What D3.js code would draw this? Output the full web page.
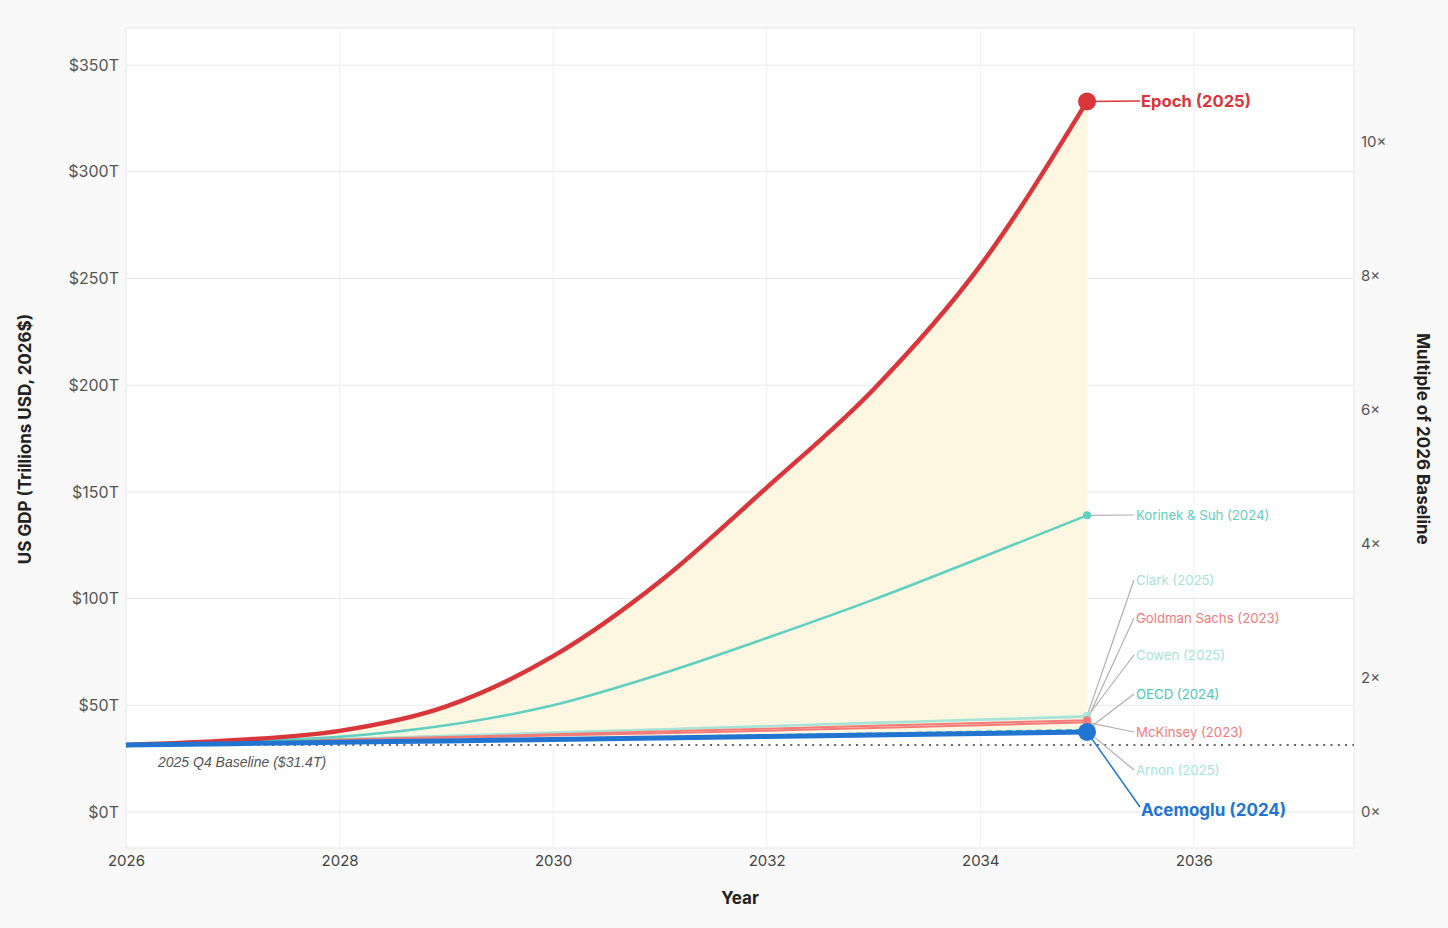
<!DOCTYPE html>
<html>
<head>
<meta charset="utf-8">
<script src="https://cdn.jsdelivr.net/npm/d3@7"></script>
<style>
  body { margin: 0; background: #f9f9f9; }
  svg { display: block; }
</style>
</head>
<body>
<script>
// data (trillions USD, 2026$)
var years = [2026, 2027, 2028, 2029, 2030, 2031, 2032, 2033, 2034, 2035]
var epoch = [31.4, 33.6, 38, 49.5, 73, 108, 152, 198, 256, 333]
var korinek = [31.4, 33, 35.2, 40.6, 50, 64.5, 81.5, 99.5, 119, 139]
var clark = [31.4, 32.8, 34.3, 35.8, 37.3, 38.8, 40.3, 41.9, 43.4, 45]
var goldman = [31.4, 32.6, 33.9, 35.1, 36.4, 37.7, 39, 40.4, 41.7, 43]
var cowen = [31.4, 32.7, 34.1, 35.6, 37.1, 38.6, 40.1, 41.6, 43.1, 44.5]
var oecd = [31.4, 32.1, 32.9, 33.6, 34.4, 35.2, 36, 36.8, 37.7, 38.5]
var mckinsey = [31.4, 32.5, 33.6, 34.7, 35.8, 36.9, 38.1, 39.3, 40.6, 42]
var arnon = [31.4, 32.1, 32.8, 33.5, 34.2, 34.9, 35.7, 36.4, 37.2, 38]
var acemoglu = [31.4, 32, 32.7, 33.3, 34, 34.7, 35.4, 36.1, 36.8, 37.5]
var baseline = 31.4
var yTicks = [0, 50, 100, 150, 200, 250, 300, 350]
var xTicks = [2026, 2028, 2030, 2032, 2034, 2036]
var multTicks = [0, 2, 4, 6, 8, 10]

var series = [
  {name: 'Epoch (2025)', values: epoch, color: '#d8363a', width: 4.5, r: 9, labelY: 101, bold: true, fs: 16.6},
  {name: 'Korinek & Suh (2024)', values: korinek, color: '#5fcfbf', width: 2.5, r: 4, labelY: 515},
  {name: 'Clark (2025)', values: clark, color: '#a6e4d8', width: 2, r: 4, labelY: 580},
  {name: 'Goldman Sachs (2023)', values: goldman, color: '#f47a78', width: 2, r: 4, labelY: 618},
  {name: 'Cowen (2025)', values: cowen, color: '#a6e4d8', width: 2, r: 4, labelY: 655},
  {name: 'OECD (2024)', values: oecd, color: '#4cc6b8', width: 2, r: 4, labelY: 694, dash: '6,4'},
  {name: 'McKinsey (2023)', values: mckinsey, color: '#f47a78', width: 2, r: 4, labelY: 732},
  {name: 'Arnon (2025)', values: arnon, color: '#a6e4d8', width: 2, r: 4, labelY: 770},
  {name: 'Acemoglu (2024)', values: acemoglu, color: '#2174d0', width: 5, r: 9, labelY: 810, bold: true, fs: 17}
]

var W = 1448, H = 928
var margin = {top: 28, right: 94, bottom: 80, left: 126}
var width = W - margin.left - margin.right
var height = H - margin.top - margin.bottom

var x = d3.scaleLinear().domain([2026, 2037.5]).range([0, width])
var y = d3.scaleLinear().domain([-16.9, 367.4]).range([height, 0])
var y2 = d3.scaleLinear().domain([-16.9 / baseline, 367.4 / baseline]).range([height, 0])

var svg = d3.select('body').append('svg')
  .attr('width', W)
  .attr('height', H)

var g = svg.append('g')
  .attr('transform', `translate(${margin.left}, ${margin.top})`)

g.append('rect')
  .attr('width', width).attr('height', height)
  .attr('fill', '#fff')
  .attr('stroke', '#e6e6e6')

// grid
g.selectAll('.vgrid').data(xTicks).enter().append('line')
  .attr('x1', d => x(d)).attr('x2', d => x(d))
  .attr('y1', 0).attr('y2', height)
  .attr('stroke', '#f1f1f1')
g.selectAll('.hgrid').data(yTicks).enter().append('line')
  .attr('x1', 0).attr('x2', width)
  .attr('y1', d => y(d)).attr('y2', d => y(d))
  .attr('stroke', '#e8e8e8')

// envelope
var lo = years.map((yr, i) => d3.min(series, s => s.values[i]))
var hi = years.map((yr, i) => d3.max(series, s => s.values[i]))
var area = d3.area()
  .x((d, i) => x(years[i]))
  .y0((d, i) => y(lo[i]))
  .y1((d, i) => y(hi[i]))
  .curve(d3.curveMonotoneX)
g.append('path').datum(years)
  .attr('d', area)
  .attr('fill', '#fdf6e0')

// baseline
g.append('line')
  .attr('x1', 0).attr('x2', width)
  .attr('y1', y(baseline)).attr('y2', y(baseline))
  .attr('stroke', '#666')
  .attr('stroke-width', 2)
  .attr('stroke-dasharray', '2,5.3')
g.append('text')
  .attr('x', 32).attr('y', y(baseline) + 22)
  .attr('font-family', 'Liberation Sans, Arial, sans-serif')
  .attr('font-style', 'italic')
  .attr('font-size', 14)
  .attr('fill', '#555')
  .text('2025 Q4 Baseline ($31.4T)')

// lines, emphasised ones last
var line = d3.line()
  .x((d, i) => x(years[i]))
  .y(d => y(d))
  .curve(d3.curveMonotoneX)

var order = [2, 4, 7, 3, 6, 5, 1, 0, 8]
order.forEach(function (k) {
  var s = series[k]
  g.append('path').datum(s.values)
    .attr('d', line)
    .attr('fill', 'none')
    .attr('stroke', s.color)
    .attr('stroke-width', s.width)
    .attr('stroke-dasharray', s.dash || null)
})

// connectors and labels
var lx = x(2035)
series.forEach(function (s) {
  var ey = y(s.values[s.values.length - 1])
  var tx = s.bold ? 1140 - margin.left : 1134 - margin.left
  g.append('line')
    .attr('x1', lx).attr('y1', ey)
    .attr('x2', tx).attr('y2', s.labelY - margin.top - (s.bold && s.labelY > 700 ? 3 : 0))
    .attr('stroke', s.bold ? s.color : '#b0b0b0')
    .attr('stroke-width', s.bold ? 1.5 : 1.2)
})
order.forEach(function (k) {
  var s = series[k]
  g.append('circle')
    .attr('cx', lx).attr('cy', y(s.values[s.values.length - 1]))
    .attr('r', s.r)
    .attr('fill', s.color)
})
series.forEach(function (s) {
  g.append('text')
    .attr('x', (s.bold ? 1141 : 1136) - margin.left)
    .attr('y', s.labelY - margin.top)
    .attr('dy', '0.35em')
    .attr('font-family', 'Inter, sans-serif')
    .attr('font-size', s.fs || 13.2)
    .attr('font-weight', s.bold ? 700 : 400)
    .attr('fill', s.color)
    .text(s.name)
})

// axes
var xAxis = g.append('g')
  .attr('transform', `translate(0, ${height})`)
  .call(d3.axisBottom(x).tickValues(xTicks).tickFormat(d3.format('d')).tickSize(0).tickPadding(7))
xAxis.select('.domain').remove()
xAxis.selectAll('text')
  .attr('font-family', 'Inter, sans-serif')
  .attr('font-size', 15)
  .attr('fill', '#444')

var yAxis = g.append('g')
  .call(d3.axisLeft(y).tickValues(yTicks).tickFormat(d => `$${d}T`).tickSize(0).tickPadding(7))
yAxis.select('.domain').remove()
yAxis.selectAll('text')
  .attr('font-family', 'Inter, sans-serif')
  .attr('font-size', 16)
  .attr('fill', '#555')

var rAxis = g.append('g')
  .attr('transform', `translate(${width}, 0)`)
  .call(d3.axisRight(y2).tickValues(multTicks).tickFormat(d => `${d}×`).tickSize(0).tickPadding(7))
rAxis.select('.domain').remove()
rAxis.selectAll('text')
  .attr('font-family', 'Inter, sans-serif')
  .attr('font-size', 15)
  .attr('fill', '#555')

// titles
svg.append('text')
  .attr('x', 740).attr('y', 898)
  .attr('dy', '0.35em')
  .attr('text-anchor', 'middle')
  .attr('font-family', 'Inter, sans-serif')
  .attr('font-weight', 700)
  .attr('font-size', 17)
  .attr('fill', '#222')
  .text('Year')

svg.append('text')
  .attr('transform', 'translate(25, 439) rotate(-90)')
  .attr('dy', '0.35em')
  .attr('text-anchor', 'middle')
  .attr('font-family', 'Inter, sans-serif')
  .attr('font-weight', 700)
  .attr('font-size', 17)
  .attr('fill', '#222')
  .text('US GDP (Trillions USD, 2026$)')

svg.append('text')
  .attr('transform', 'translate(1423, 439) rotate(90)')
  .attr('dy', '0.35em')
  .attr('text-anchor', 'middle')
  .attr('font-family', 'Inter, sans-serif')
  .attr('font-weight', 700)
  .attr('font-size', 17)
  .attr('fill', '#222')
  .text('Multiple of 2026 Baseline')
</script>
</body>
</html>
